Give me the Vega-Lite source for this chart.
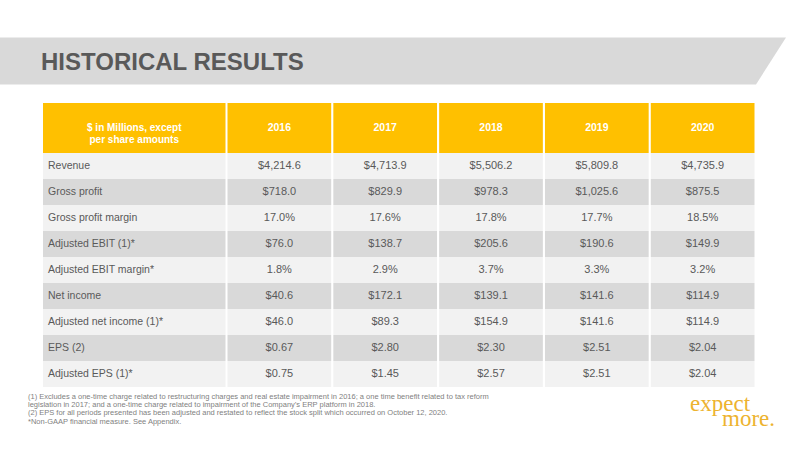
{
  "$schema": "https://vega.github.io/schema/vega-lite/v6.json",
  "width": 800,
  "height": 450,
  "autosize": {"type": "none"},
  "padding": 0,
  "background": "white",
  "config": {
    "view": {"stroke": null},
    "axis": {"disable": true},
    "legend": {"disable": true}
  },
  "datasets": {
    "heading": [{"title": "HISTORICAL RESULTS"}],
    "corner": [{"caption": ["$ in Millions, except", "per share amounts"]}],
    "years": [{"year": "2016"}, {"year": "2017"}, {"year": "2018"}, {"year": "2019"}, {"year": "2020"}],
    "metrics": [
      {"metric": "Revenue"},
      {"metric": "Gross profit"},
      {"metric": "Gross profit margin"},
      {"metric": "Adjusted EBIT (1)*"},
      {"metric": "Adjusted EBIT margin*"},
      {"metric": "Net income"},
      {"metric": "Adjusted net income (1)*"},
      {"metric": "EPS (2)"},
      {"metric": "Adjusted EPS (1)*"}
    ],
    "table": [
      {"metric": "Revenue", "year": "2016", "value": 4214.6, "shown": "$4,214.6"},
      {"metric": "Revenue", "year": "2017", "value": 4713.9, "shown": "$4,713.9"},
      {"metric": "Revenue", "year": "2018", "value": 5506.2, "shown": "$5,506.2"},
      {"metric": "Revenue", "year": "2019", "value": 5809.8, "shown": "$5,809.8"},
      {"metric": "Revenue", "year": "2020", "value": 4735.9, "shown": "$4,735.9"},
      {"metric": "Gross profit", "year": "2016", "value": 718.0, "shown": "$718.0"},
      {"metric": "Gross profit", "year": "2017", "value": 829.9, "shown": "$829.9"},
      {"metric": "Gross profit", "year": "2018", "value": 978.3, "shown": "$978.3"},
      {"metric": "Gross profit", "year": "2019", "value": 1025.6, "shown": "$1,025.6"},
      {"metric": "Gross profit", "year": "2020", "value": 875.5, "shown": "$875.5"},
      {"metric": "Gross profit margin", "year": "2016", "value": 17.0, "shown": "17.0%"},
      {"metric": "Gross profit margin", "year": "2017", "value": 17.6, "shown": "17.6%"},
      {"metric": "Gross profit margin", "year": "2018", "value": 17.8, "shown": "17.8%"},
      {"metric": "Gross profit margin", "year": "2019", "value": 17.7, "shown": "17.7%"},
      {"metric": "Gross profit margin", "year": "2020", "value": 18.5, "shown": "18.5%"},
      {"metric": "Adjusted EBIT (1)*", "year": "2016", "value": 76.0, "shown": "$76.0"},
      {"metric": "Adjusted EBIT (1)*", "year": "2017", "value": 138.7, "shown": "$138.7"},
      {"metric": "Adjusted EBIT (1)*", "year": "2018", "value": 205.6, "shown": "$205.6"},
      {"metric": "Adjusted EBIT (1)*", "year": "2019", "value": 190.6, "shown": "$190.6"},
      {"metric": "Adjusted EBIT (1)*", "year": "2020", "value": 149.9, "shown": "$149.9"},
      {"metric": "Adjusted EBIT margin*", "year": "2016", "value": 1.8, "shown": "1.8%"},
      {"metric": "Adjusted EBIT margin*", "year": "2017", "value": 2.9, "shown": "2.9%"},
      {"metric": "Adjusted EBIT margin*", "year": "2018", "value": 3.7, "shown": "3.7%"},
      {"metric": "Adjusted EBIT margin*", "year": "2019", "value": 3.3, "shown": "3.3%"},
      {"metric": "Adjusted EBIT margin*", "year": "2020", "value": 3.2, "shown": "3.2%"},
      {"metric": "Net income", "year": "2016", "value": 40.6, "shown": "$40.6"},
      {"metric": "Net income", "year": "2017", "value": 172.1, "shown": "$172.1"},
      {"metric": "Net income", "year": "2018", "value": 139.1, "shown": "$139.1"},
      {"metric": "Net income", "year": "2019", "value": 141.6, "shown": "$141.6"},
      {"metric": "Net income", "year": "2020", "value": 114.9, "shown": "$114.9"},
      {"metric": "Adjusted net income (1)*", "year": "2016", "value": 46.0, "shown": "$46.0"},
      {"metric": "Adjusted net income (1)*", "year": "2017", "value": 89.3, "shown": "$89.3"},
      {"metric": "Adjusted net income (1)*", "year": "2018", "value": 154.9, "shown": "$154.9"},
      {"metric": "Adjusted net income (1)*", "year": "2019", "value": 141.6, "shown": "$141.6"},
      {"metric": "Adjusted net income (1)*", "year": "2020", "value": 114.9, "shown": "$114.9"},
      {"metric": "EPS (2)", "year": "2016", "value": 0.67, "shown": "$0.67"},
      {"metric": "EPS (2)", "year": "2017", "value": 2.80, "shown": "$2.80"},
      {"metric": "EPS (2)", "year": "2018", "value": 2.30, "shown": "$2.30"},
      {"metric": "EPS (2)", "year": "2019", "value": 2.51, "shown": "$2.51"},
      {"metric": "EPS (2)", "year": "2020", "value": 2.04, "shown": "$2.04"},
      {"metric": "Adjusted EPS (1)*", "year": "2016", "value": 0.75, "shown": "$0.75"},
      {"metric": "Adjusted EPS (1)*", "year": "2017", "value": 1.45, "shown": "$1.45"},
      {"metric": "Adjusted EPS (1)*", "year": "2018", "value": 2.57, "shown": "$2.57"},
      {"metric": "Adjusted EPS (1)*", "year": "2019", "value": 2.51, "shown": "$2.51"},
      {"metric": "Adjusted EPS (1)*", "year": "2020", "value": 2.04, "shown": "$2.04"}
    ],
    "notes": [
      {"note": "(1)  Excludes a one-time charge related to restructuring charges and real estate impairment in 2016; a one time benefit related to tax reform"},
      {"note": "legislation in 2017; and a one-time charge related to impairment of the Company’s ERP platform in 2018."},
      {"note": "(2)  EPS for all periods presented has been adjusted and restated to reflect the stock split which occurred on October 12, 2020."},
      {"note": "*Non-GAAP financial measure.  See Appendix."}
    ],
    "logo": [{"word": "expect"}, {"word": "more."}]
  },
  "resolve": {"scale": {"x": "independent", "y": "independent", "color": "independent"}},
  "layer": [
    {
      "data": {"name": "heading"},
      "mark": {"type": "point", "shape": "M-1,-0.0598L1,-0.0598L0.9237,0.0598L-1,0.0598Z", "size": 617796, "filled": true, "color": "#D9D9D9", "opacity": 1, "strokeWidth": 0},
      "encoding": {
        "x": {"field": "title", "type": "nominal", "scale": {"type": "point", "range": [0, 786], "padding": 0.5}},
        "y": {"field": "title", "type": "nominal", "scale": {"type": "point", "range": [37.5, 84.5], "padding": 0.5}}
      }
    },
    {
      "data": {"name": "heading"},
      "mark": {"type": "text", "align": "left", "baseline": "alphabetic", "font": "Liberation Sans, Arial, sans-serif", "fontWeight": "bold", "fontSize": 24, "color": "#595959"},
      "encoding": {
        "x": {"field": "title", "type": "nominal", "scale": {"type": "point", "range": [41, 41], "padding": 0}},
        "y": {"field": "title", "type": "nominal", "scale": {"type": "point", "range": [69.5, 69.5], "padding": 0}},
        "text": {"field": "title"}
      }
    },
    {
      "data": {"name": "corner"},
      "mark": {"type": "rect", "color": "#FFC000"},
      "encoding": {
        "x": {"datum": "label", "type": "nominal", "scale": {"type": "band", "domain": ["label"], "range": [43, 225.5], "paddingInner": 0, "paddingOuter": 0}},
        "y": {"datum": "header", "type": "nominal", "scale": {"type": "band", "domain": ["header"], "range": [103, 153], "paddingInner": 0, "paddingOuter": 0}}
      }
    },
    {
      "data": {"name": "corner"},
      "mark": {"type": "text", "align": "center", "baseline": "middle", "font": "Liberation Sans, Arial, sans-serif", "fontWeight": "bold", "fontSize": 10, "lineHeight": 12, "color": "white"},
      "encoding": {
        "x": {"datum": "label", "type": "nominal", "scale": {"type": "band", "domain": ["label"], "range": [43, 225.5], "paddingInner": 0, "paddingOuter": 0}},
        "y": {"datum": "header", "type": "nominal", "scale": {"type": "band", "domain": ["header"], "range": [103, 153], "paddingInner": 0, "paddingOuter": 0}},
        "text": {"field": "caption", "type": "nominal"}
      }
    },
    {
      "data": {"name": "years"},
      "mark": {"type": "rect", "color": "#FFC000"},
      "encoding": {
        "x": {"field": "year", "type": "nominal", "scale": {"type": "band", "range": [227.5, 754.5], "paddingInner": 0.02, "paddingOuter": 0}},
        "y": {"datum": "header", "type": "nominal", "scale": {"type": "band", "domain": ["header"], "range": [103, 153], "paddingInner": 0, "paddingOuter": 0}}
      }
    },
    {
      "data": {"name": "years"},
      "mark": {"type": "text", "align": "center", "baseline": "middle", "font": "Liberation Sans, Arial, sans-serif", "fontWeight": "bold", "fontSize": 10.5, "color": "white"},
      "encoding": {
        "x": {"field": "year", "type": "nominal", "scale": {"type": "band", "range": [227.5, 754.5], "paddingInner": 0.02, "paddingOuter": 0}},
        "y": {"datum": "header", "type": "nominal", "scale": {"type": "band", "domain": ["header"], "range": [103, 153], "paddingInner": 0, "paddingOuter": 0}},
        "text": {"field": "year", "type": "nominal"}
      }
    },
    {
      "data": {"name": "metrics"},
      "mark": {"type": "rect", "opacity": 1},
      "encoding": {
        "x": {"datum": "label", "type": "nominal", "scale": {"type": "band", "domain": ["label"], "range": [43, 225.5], "paddingInner": 0, "paddingOuter": 0}},
        "y": {"field": "metric", "type": "nominal", "sort": null, "scale": {"type": "band", "range": [153, 387], "paddingInner": 0, "paddingOuter": 0}},
        "color": {"field": "metric", "type": "nominal", "sort": null, "scale": {"range": ["#F2F2F2", "#D9D9D9", "#F2F2F2", "#D9D9D9", "#F2F2F2", "#D9D9D9", "#F2F2F2", "#D9D9D9", "#F2F2F2"]}}
      }
    },
    {
      "data": {"name": "table"},
      "mark": {"type": "rect", "opacity": 1},
      "encoding": {
        "x": {"field": "year", "type": "nominal", "scale": {"type": "band", "range": [227.5, 754.5], "paddingInner": 0.02, "paddingOuter": 0}},
        "y": {"field": "metric", "type": "nominal", "sort": null, "scale": {"type": "band", "range": [153, 387], "paddingInner": 0, "paddingOuter": 0}},
        "color": {"field": "metric", "type": "nominal", "sort": null, "scale": {"range": ["#F2F2F2", "#D9D9D9", "#F2F2F2", "#D9D9D9", "#F2F2F2", "#D9D9D9", "#F2F2F2", "#D9D9D9", "#F2F2F2"]}}
      }
    },
    {
      "data": {"name": "metrics"},
      "mark": {"type": "text", "align": "left", "baseline": "middle", "dx": 5, "font": "Liberation Sans, Arial, sans-serif", "fontSize": 10.5, "color": "#595959"},
      "encoding": {
        "x": {"datum": "label", "type": "nominal", "bandPosition": 0, "scale": {"type": "band", "domain": ["label"], "range": [43, 225.5], "paddingInner": 0, "paddingOuter": 0}},
        "y": {"field": "metric", "type": "nominal", "sort": null, "scale": {"type": "band", "range": [153, 387], "paddingInner": 0, "paddingOuter": 0}},
        "text": {"field": "metric", "type": "nominal"}
      }
    },
    {
      "data": {"name": "table"},
      "mark": {"type": "text", "align": "center", "baseline": "middle", "font": "Liberation Sans, Arial, sans-serif", "fontSize": 11, "color": "#595959"},
      "encoding": {
        "x": {"field": "year", "type": "nominal", "scale": {"type": "band", "range": [227.5, 754.5], "paddingInner": 0.02, "paddingOuter": 0}},
        "y": {"field": "metric", "type": "nominal", "sort": null, "scale": {"type": "band", "range": [153, 387], "paddingInner": 0, "paddingOuter": 0}},
        "text": {"field": "shown", "type": "nominal"}
      }
    },
    {
      "data": {"name": "notes"},
      "mark": {"type": "text", "align": "left", "baseline": "middle", "font": "Liberation Sans, Arial, sans-serif", "fontSize": 7.5, "color": "#7F7F7F"},
      "encoding": {
        "x": {"datum": "notes", "type": "nominal", "scale": {"type": "point", "range": [28, 28], "padding": 0}},
        "y": {"field": "note", "type": "nominal", "sort": null, "scale": {"type": "band", "range": [392.5, 426], "paddingInner": 0, "paddingOuter": 0}},
        "text": {"field": "note", "type": "nominal"}
      }
    },
    {
      "data": {"name": "logo"},
      "mark": {"type": "text", "align": "left", "baseline": "alphabetic", "font": "Liberation Serif, serif", "fontSize": 23, "color": "#EDB32F"},
      "encoding": {
        "x": {"field": "word", "type": "nominal", "sort": null, "scale": {"type": "point", "range": [690, 722], "padding": 0}},
        "y": {"field": "word", "type": "nominal", "sort": null, "scale": {"type": "point", "range": [411, 426], "padding": 0}},
        "text": {"field": "word", "type": "nominal"}
      }
    }
  ]
}
